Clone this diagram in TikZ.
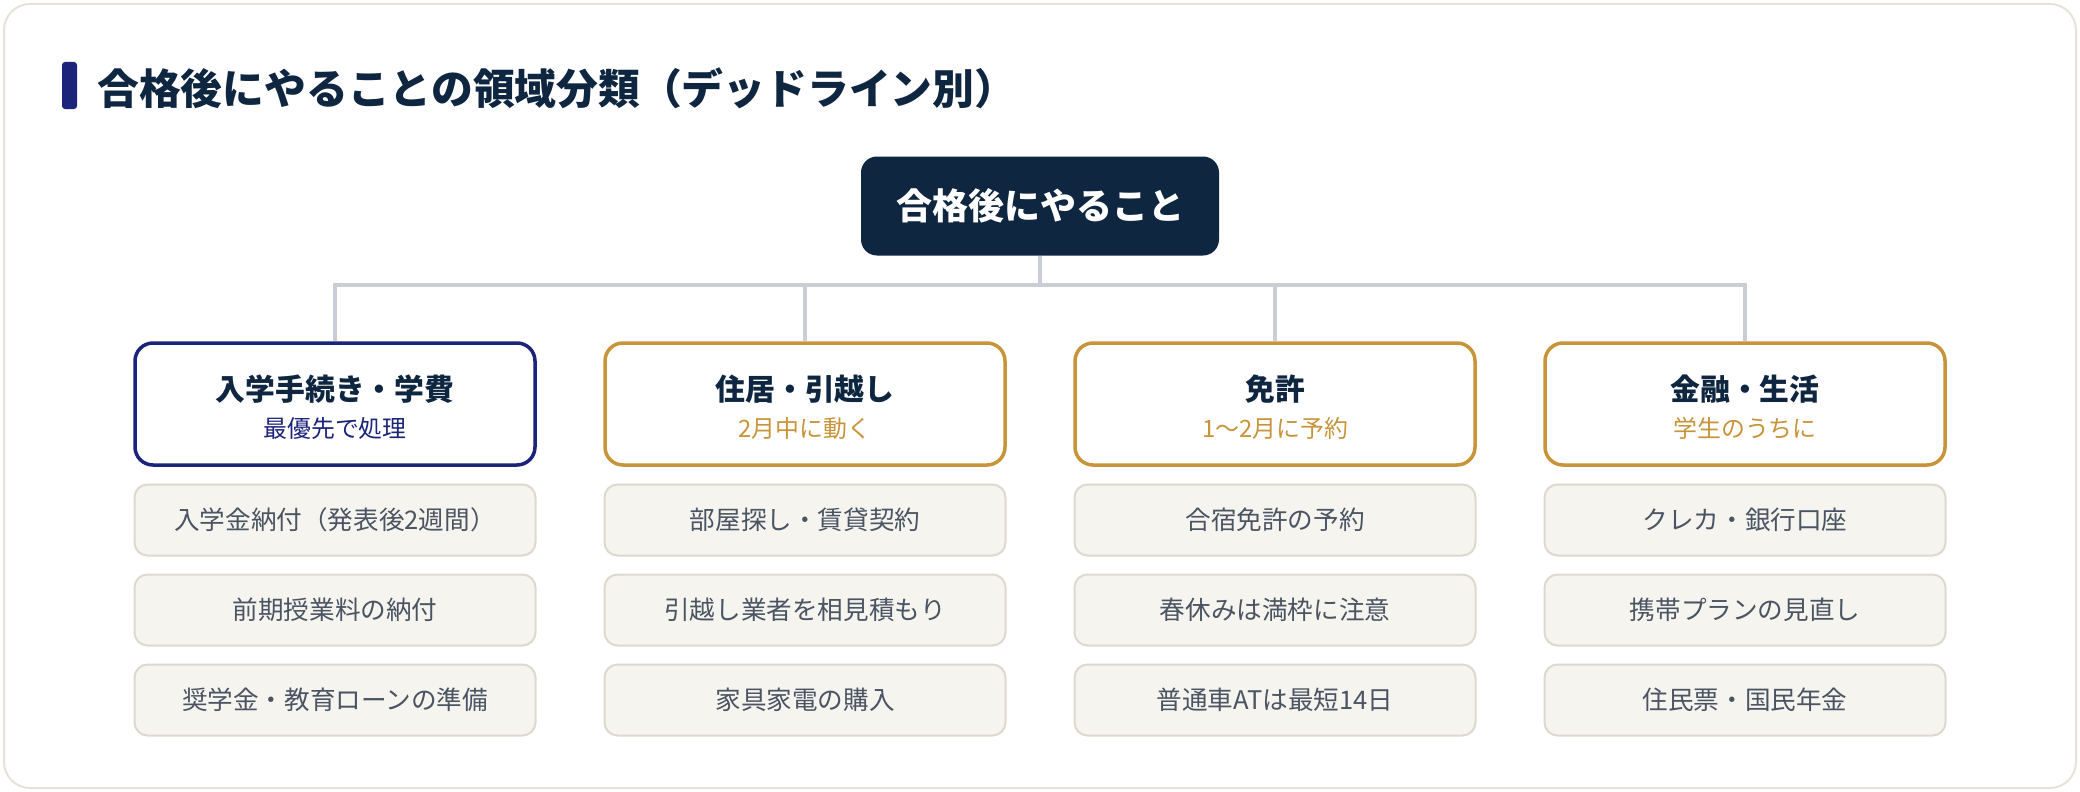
\documentclass[tikz,border=0pt]{standalone}
\usepackage{fontspec}
\setmainfont{Noto Sans CJK JP}
\definecolor{navy}{HTML}{0F2640}
\definecolor{indigo}{HTML}{1C237A}
\definecolor{gold}{HTML}{C8943A}
\definecolor{linegray}{HTML}{C8CDD6}
\definecolor{itemfill}{HTML}{F5F4EF}
\definecolor{itemborder}{HTML}{DDD9CD}
\definecolor{itemtext}{HTML}{4A5462}
\definecolor{framecol}{HTML}{E5E3D6}
\tikzset{
  rootbox/.style={fill=navy, text=white, rounded corners=16pt, minimum width=358pt, minimum height=99pt, inner sep=0pt, font=\bfseries\fontsize{36}{43}\selectfont},
  catbox/.style={fill=white, line width=3.5pt, rounded corners=18pt, minimum width=400pt, minimum height=122pt, inner sep=0pt},
  cattitle/.style={text=navy, inner sep=0pt, font=\bfseries\fontsize{29.8}{36}\selectfont},
  catsub/.style={inner sep=0pt, font=\fontsize{23.9}{29}\selectfont},
  itembox/.style={fill=itemfill, draw=itemborder, line width=2pt, rounded corners=13pt, minimum width=401pt, minimum height=71pt, inner sep=0pt, text=itemtext, font=\fontsize{25.6}{31}\selectfont},
  conn/.style={draw=linegray, line width=3.5pt}
}
\begin{document}
\begin{tikzpicture}[x=1pt,y=-1pt]
\useasboundingbox (0,0) rectangle (2080,792);
\draw[framecol, line width=2pt, fill=white, rounded corners=26pt] (4,4) rectangle (2076,788);
% title
\fill[indigo, rounded corners=3pt] (62,62) rectangle (77,109);
\node[anchor=west, inner sep=0pt, text=navy, font=\bfseries\fontsize{41.8}{50}\selectfont] (title) at (97,88) {合格後にやることの領域分類（デッドライン別）};
% root
\node[rootbox] (root) at (1040,206) {合格後にやること};
% categories
\node[catbox, draw=indigo] (c1) at (335,404) {};
\node[catbox, draw=gold] (c2) at (805,404) {};
\node[catbox, draw=gold] (c3) at (1275,404) {};
\node[catbox, draw=gold] (c4) at (1745,404) {};
\node[cattitle] (c1t) at (335,389) {入学手続き・学費};
\node[catsub, text=indigo] (c1s) at (335,428) {最優先で処理};
\node[cattitle] (c2t) at (805,389) {住居・引越し};
\node[catsub, text=gold] (c2s) at (805,428) {2月中に動く};
\node[cattitle] (c3t) at (1275,389) {免許};
\node[catsub, text=gold] (c3s) at (1275,428) {1〜2月に予約};
\node[cattitle] (c4t) at (1745,389) {金融・生活};
\node[catsub, text=gold] (c4s) at (1745,428) {学生のうちに};
% connectors
\coordinate (bus) at (1040,285);
\draw[conn] (root.south) -- (bus);
\draw[conn] (c1.north) |- (bus) -| (c4.north);
\draw[conn] (c2.north) -- (c2.north |- bus);
\draw[conn] (c3.north) -- (c3.north |- bus);
% items
\node[itembox] (i11) at (335,520) {入学金納付（発表後2週間）};
\node[itembox] (i12) at (335,610) {前期授業料の納付};
\node[itembox] (i13) at (335,700) {奨学金・教育ローンの準備};
\node[itembox] (i21) at (805,520) {部屋探し・賃貸契約};
\node[itembox] (i22) at (805,610) {引越し業者を相見積もり};
\node[itembox] (i23) at (805,700) {家具家電の購入};
\node[itembox] (i31) at (1275,520) {合宿免許の予約};
\node[itembox] (i32) at (1275,610) {春休みは満枠に注意};
\node[itembox] (i33) at (1275,700) {普通車ATは最短14日};
\node[itembox] (i41) at (1745,520) {クレカ・銀行口座};
\node[itembox] (i42) at (1745,610) {携帯プランの見直し};
\node[itembox] (i43) at (1745,700) {住民票・国民年金};
\end{tikzpicture}
\end{document}
